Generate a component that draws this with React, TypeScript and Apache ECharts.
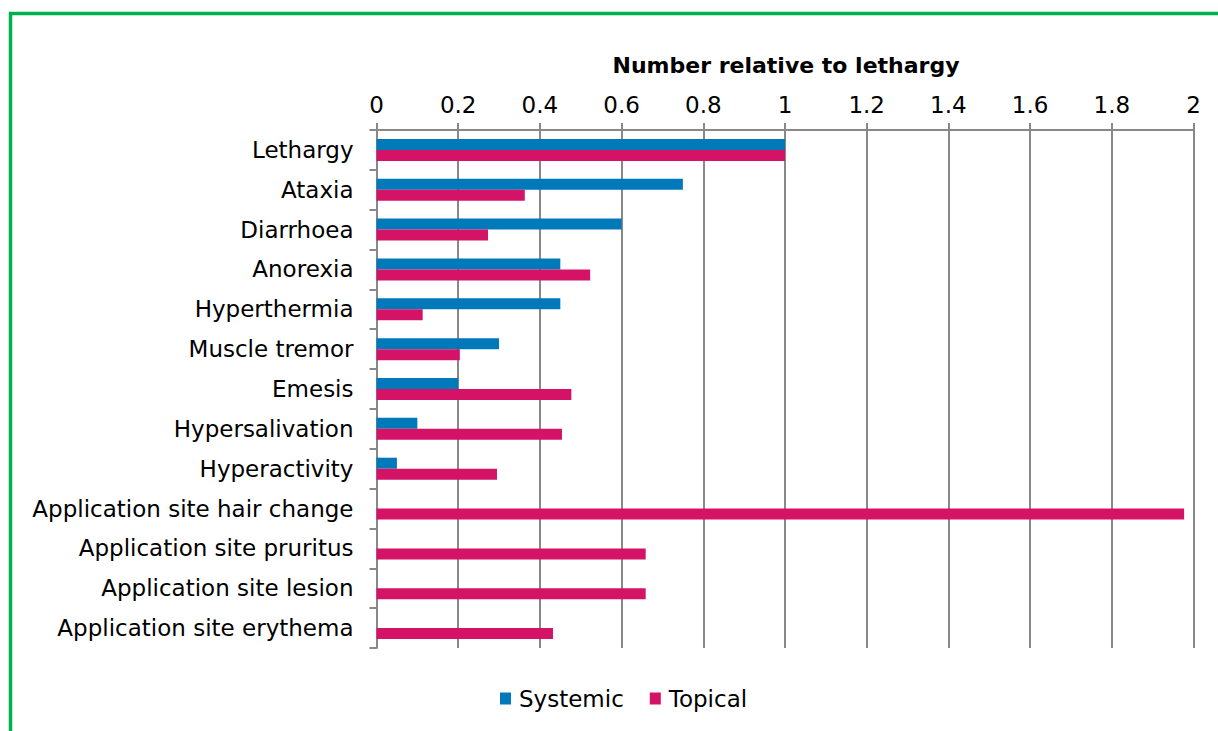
import React, { useEffect, useRef } from "react";
import * as echarts from "echarts";

const categories = [
  "Lethargy",
  "Ataxia",
  "Diarrhoea",
  "Anorexia",
  "Hyperthermia",
  "Muscle tremor",
  "Emesis",
  "Hypersalivation",
  "Hyperactivity",
  "Application site hair change",
  "Application site pruritus",
  "Application site lesion",
  "Application site erythema",
];

const systemic = [1, 0.75, 0.6, 0.45, 0.45, 0.3, 0.2, 0.1, 0.05, 0, 0, 0, 0];
const topical = [1, 0.363, 0.273, 0.523, 0.113, 0.204, 0.477, 0.454, 0.295, 1.977, 0.659, 0.659, 0.432];

const xTicks = { min: 0, max: 2, interval: 0.2 };
const titleText = "Number relative to lethargy";

const FONT = "DejaVu Sans, Liberation Sans, Arial, sans-serif";

export default function App() {
  const ref = useRef<HTMLDivElement>(null);
  useEffect(() => {
    if (!ref.current) return;
    const chart = echarts.init(ref.current, undefined, { renderer: "svg" });
    chart.setOption({
      animation: false,
      backgroundColor: "#ffffff",
      title: {
        text: titleText,
        left: 781,
        top: 49,
        textAlign: "center",
        textStyle: { fontFamily: FONT, fontSize: 22, fontWeight: "bold", color: "#000" },
      },
      legend: {
        data: ["Systemic", "Topical"],
        bottom: 16,
        left: 495,
        itemWidth: 11,
        itemHeight: 12,
        itemGap: 26,
        icon: "rect",
        textStyle: { fontFamily: FONT, fontSize: 23, color: "#000", padding: [0, 0, 0, 3] },
      },
      graphic: [
        {
          type: "rect",
          shape: { x: 10.5, y: 13.5, width: 2000, height: 2000 },
          style: { fill: "none", stroke: "#00B050", lineWidth: 3.5 },
          silent: true,
        },
      ],
      grid: { left: 376.5, right: 24.5, top: 130, bottom: 83, containLabel: false },
      xAxis: {
        type: "value",
        position: "top",
        min: xTicks.min,
        max: xTicks.max,
        interval: xTicks.interval,
        axisLine: { show: true, lineStyle: { color: "#888", width: 2 } },
        axisTick: { show: true, length: 7, lineStyle: { color: "#888", width: 2 } },
        axisLabel: {
          margin: 14,
          fontFamily: FONT,
          fontSize: 23,
          color: "#000",
          formatter: (v: number) => String(Math.round(v * 10) / 10),
        },
        splitLine: { show: true, lineStyle: { color: "#888", width: 2 } },
      },
      yAxis: {
        type: "category",
        data: categories,
        inverse: true,
        axisLine: { show: true, lineStyle: { color: "#888", width: 2 } },
        axisTick: { show: true, length: 7, lineStyle: { color: "#888", width: 2 } },
        axisLabel: { margin: 23, fontFamily: FONT, fontSize: 23, color: "#000" },
        splitLine: { show: false },
      },
      series: [
        {
          name: "Systemic",
          type: "bar",
          data: systemic,
          barWidth: 11,
          barGap: "0%",
          itemStyle: { color: "#0079BA" },
        },
        {
          name: "Topical",
          type: "bar",
          data: topical,
          barWidth: 11,
          barGap: "0%",
          itemStyle: { color: "#D41367" },
        },
      ],
    });
    return () => chart.dispose();
  }, []);
  return (
    <div
      ref={ref}
      style={{ position: "fixed", left: 0, top: 0, width: 1218, height: 731 }}
    />
  );
}
